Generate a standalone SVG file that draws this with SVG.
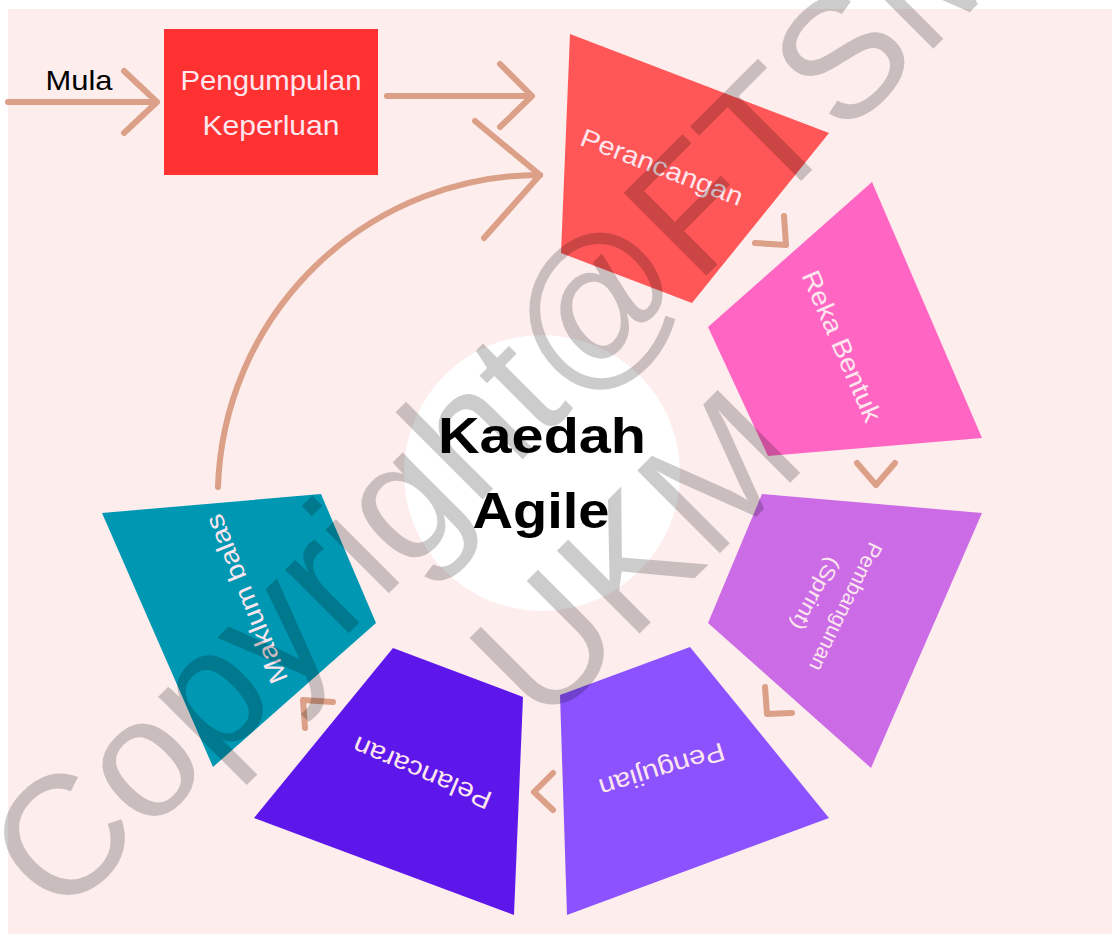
<svg xmlns="http://www.w3.org/2000/svg" width="1112" height="934" viewBox="0 0 1112 934">
<style>
.bg{fill:#FDEDED}
.lbl{font-family:"Liberation Sans",Arial,sans-serif;fill:#FDE6EE;text-anchor:middle}
.conn{fill:none;stroke:#DBA087;stroke-width:6;stroke-linecap:round;stroke-linejoin:round}
.title{font-family:"Liberation Sans",Arial,sans-serif;font-weight:bold;font-size:50px;fill:#000;text-anchor:middle}
.wm{font-family:"Liberation Sans",Arial,sans-serif;font-size:170px;fill:#000;fill-opacity:0.2}
</style>
<rect x="0" y="0" width="1112" height="934" fill="#FFFFFF"/>
<rect class="bg" x="8" y="9" width="1104" height="925"/>

<g id="connectors">
  <path class="conn" d="M8,102 H157 M124,71 L157,102 L124,133"/>
  <text x="79" y="90" font-family="'Liberation Sans',Arial,sans-serif" font-size="28" fill="#000" text-anchor="middle" textLength="67" lengthAdjust="spacingAndGlyphs">Mula</text>
  <path class="conn" d="M387,96 H532 M500,64 L532,96 L500,127"/>
  <path class="conn" d="M218,487 A322,322 0 0 1 540,175"/>
  <path class="conn" d="M475,121 L540,175 L484,238"/>
  <path class="conn" d="M755,243 L786,245 L784,216"/>
  <path class="conn" d="M857,463 L876,485 L895,463"/>
  <path class="conn" d="M765,687 L767,714 L792,713"/>
  <path class="conn" d="M553,773 L534,792 L553,810"/>
  <path class="conn" d="M305,728 L303,700 L333,702"/>
</g>

<g id="node-pengumpulan">
  <rect x="164" y="29" width="214" height="146" fill="#FF3131"/>
  <text class="lbl" x="271" y="90" font-size="28" textLength="181" lengthAdjust="spacingAndGlyphs">Pengumpulan</text>
  <text class="lbl" x="271" y="135" font-size="28" textLength="137" lengthAdjust="spacingAndGlyphs">Keperluan</text>
</g>

<g id="node-perancangan">
  <polygon points="570,34 829,133 692,303 561,253" fill="#FF5757"/>
  <text class="lbl" transform="translate(662,167) rotate(21)" dy="0.35em" font-size="26" textLength="172" lengthAdjust="spacingAndGlyphs">Perancangan</text>
</g>

<g id="node-rekabentuk">
  <polygon points="872,182 982,438 768,456 708,327" fill="#FF66C4"/>
  <text class="lbl" transform="translate(842,346) rotate(66.5)" dy="0.35em" font-size="26" textLength="162" lengthAdjust="spacingAndGlyphs">Reka Bentuk</text>
</g>

<g id="node-pembangunan">
  <polygon points="762,494 982,513 871,768 708,623" fill="#CB6CE6"/>
  <text class="lbl" transform="translate(846,607) rotate(116)" dy="0.35em" font-size="21" textLength="140" lengthAdjust="spacingAndGlyphs">Pembangunan</text>
  <text class="lbl" transform="translate(816,594) rotate(119)" dy="0.35em" font-size="21" textLength="80" lengthAdjust="spacingAndGlyphs">(Sprint)</text>
</g>

<g id="node-pengujian">
  <polygon points="690,647 829,818 567,915 560,695" fill="#8C52FF"/>
  <text class="lbl" transform="translate(662,770) rotate(163)" dy="0.35em" font-size="26" textLength="130" lengthAdjust="spacingAndGlyphs">Pengujian</text>
</g>

<g id="node-pelancaran">
  <polygon points="393,648 523,697 514,915 254,818" fill="#5E17EB"/>
  <text class="lbl" transform="translate(422,773) rotate(203)" dy="0.35em" font-size="26" textLength="148" lengthAdjust="spacingAndGlyphs">Pelancaran</text>
</g>

<g id="node-maklumbalas">
  <polygon points="102,513 321,494 376,623 213,767" fill="#0097B2"/>
  <text class="lbl" transform="translate(246,599) rotate(-112)" dy="0.35em" font-size="26" textLength="180" lengthAdjust="spacingAndGlyphs">Maklum balas</text>
</g>

<g id="node-center">
  <circle cx="542" cy="473" r="138" fill="#FFFFFF"/>
  <text class="title" x="542" y="453" textLength="208" lengthAdjust="spacingAndGlyphs">Kaedah</text>
  <text class="title" x="541" y="528" textLength="137" lengthAdjust="spacingAndGlyphs">Agile</text>
</g>

<g id="watermark">
  <text class="wm" transform="translate(60,922) rotate(-45)">Copyright@FTSM</text>
  <text class="wm" transform="translate(543,730) rotate(-45)">UKM</text>
</g>
</svg>
